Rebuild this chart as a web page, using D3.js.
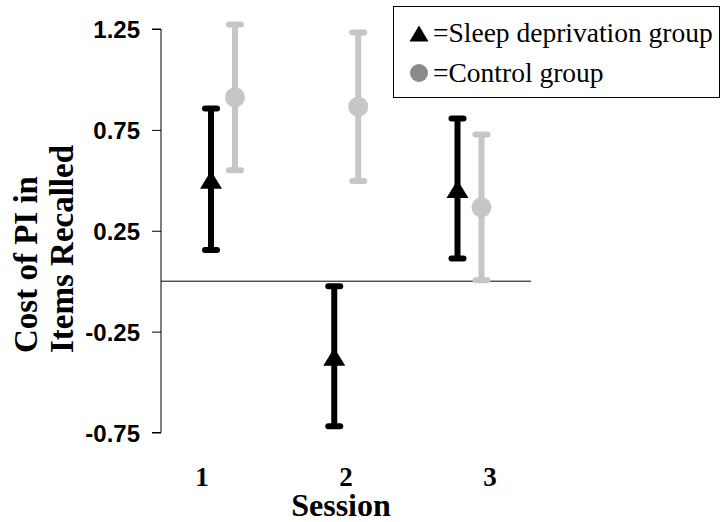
<!DOCTYPE html>
<html>
<head>
<meta charset="utf-8">
<script src="https://cdn.jsdelivr.net/npm/d3@7"></script>
<style>
  html, body { margin: 0; padding: 0; background: #fff; }
  svg { display: block; }
</style>
</head>
<body>
<svg id="chart" width="722" height="522"></svg>
<script>
// Sessions and group means with their error-bar half-widths
const sessions = ["1", "2", "3"];
const sleepMeans = [0.505, -0.372, 0.459];
const sleepErrors = [0.351, 0.347, 0.347];
const controlMeans = [0.911, 0.865, 0.366];
const controlErrors = [0.361, 0.368, 0.361];
const yTicks = [-0.75, -0.25, 0.25, 0.75, 1.25];
const yTitleLines = ["Cost of PI in", "Items Recalled"];
const legendLabels = ["=Sleep deprivation group", "=Control group"];

const svg = d3.select("#chart");
const serif = "'Liberation Serif', 'Times New Roman', serif";
const sans = "'Liberation Sans', Arial, sans-serif";

const black = "#000";
const lightGray = "#c6c6c6";
const legendGray = "#8a8a8a";

// Scales
const y = d3.scaleLinear().domain([-0.75, 1.25]).range([432.5, 29]);
const xMarks = d3.scalePoint().domain(sessions).range([223, 469.5]);
const xLabels = d3.scalePoint().domain(sessions).range([202, 490]);
const offset = 12;

// Y axis (plain hyphen for negatives)
const fmt = d3.format(".2f");
const yAxis = d3.axisLeft(y).tickValues(yTicks).tickSize(9).tickPadding(12)
  .tickFormat(d => fmt(d).replace("\u2212", "-"));
const gy = svg.append("g").attr("transform", "translate(161,0)").call(yAxis);
gy.select(".domain").attr("stroke", "#000").attr("stroke-width", 1)
  .attr("d", `M-9,${y(1.25)}H0V${y(-0.75)}H-9`);
gy.selectAll(".tick line").attr("stroke", "#000");
gy.selectAll(".tick text")
  .attr("font-family", sans).attr("font-weight", "bold").attr("font-size", 24)
  .attr("fill", "#000").attr("dy", "0.36em");

// Zero reference line
svg.append("line")
  .attr("x1", 161).attr("x2", 531)
  .attr("y1", y(0)).attr("y2", y(0))
  .attr("stroke", "#000").attr("stroke-width", 1);

// Session labels
svg.append("g").selectAll("text").data(sessions).join("text")
  .attr("x", d => xLabels(d)).attr("y", 486)
  .attr("text-anchor", "middle")
  .attr("font-family", serif).attr("font-weight", "bold").attr("font-size", 27)
  .text(d => d);

svg.append("text")
  .attr("x", 341).attr("y", 516)
  .attr("text-anchor", "middle")
  .attr("font-family", serif).attr("font-weight", "bold").attr("font-size", 32)
  .text("Session");

// Y title, two rotated lines
svg.append("g").selectAll("text").data(yTitleLines).join("text")
  .attr("transform", (d, i) => `translate(${37 + i * 36},353) rotate(-90)`)
  .attr("text-anchor", "start")
  .attr("font-family", serif).attr("font-weight", "bold").attr("font-size", 33)
  .text(d => d);

// Error bars
function errorBars(means, errs, dx, color) {
  const g = svg.append("g");
  const rows = sessions.map((s, i) => ({ s, m: means[i], e: errs[i] }));
  g.selectAll("line.stem").data(rows).join("line")
    .attr("class", "stem")
    .attr("x1", d => xMarks(d.s) + dx).attr("x2", d => xMarks(d.s) + dx)
    .attr("y1", d => y(d.m + d.e)).attr("y2", d => y(d.m - d.e))
    .attr("stroke", color).attr("stroke-width", 6);
  ["top", "bottom"].forEach(end => {
    g.selectAll("line.cap-" + end).data(rows).join("line")
      .attr("class", "cap-" + end)
      .attr("x1", d => xMarks(d.s) + dx - 6).attr("x2", d => xMarks(d.s) + dx + 6)
      .attr("y1", d => y(end === "top" ? d.m + d.e : d.m - d.e))
      .attr("y2", d => y(end === "top" ? d.m + d.e : d.m - d.e))
      .attr("stroke", color).attr("stroke-width", 6).attr("stroke-linecap", "round");
  });
  return { g, rows };
}

const sleep = errorBars(sleepMeans, sleepErrors, -offset, black);
const control = errorBars(controlMeans, controlErrors, offset, lightGray);

// Markers
function trianglePath(cx, cy, w, h) {
  return `M${cx},${cy - h * 0.47}L${cx + w / 2},${cy + h * 0.53}L${cx - w / 2},${cy + h * 0.53}Z`;
}
sleep.g.selectAll("path.marker").data(sleep.rows).join("path")
  .attr("class", "marker")
  .attr("d", d => trianglePath(xMarks(d.s) - offset, y(d.m), 22, 18))
  .attr("fill", black);

control.g.selectAll("circle").data(control.rows).join("circle")
  .attr("cx", d => xMarks(d.s) + offset).attr("cy", d => y(d.m))
  .attr("r", 10).attr("fill", lightGray);

// Legend
const lg = svg.append("g");
lg.append("rect")
  .attr("x", 393.5).attr("y", 6.5).attr("width", 326).attr("height", 91)
  .attr("fill", "#fff").attr("stroke", "#000").attr("stroke-width", 1);
lg.append("path").attr("d", trianglePath(419, 33, 19, 16)).attr("fill", black);
lg.append("circle").attr("cx", 419).attr("cy", 73).attr("r", 9).attr("fill", legendGray);
lg.selectAll("text").data(legendLabels).join("text")
  .attr("x", 433).attr("y", (d, i) => 42 + i * 40)
  .attr("font-family", serif).attr("font-size", 27.5)
  .attr("fill", "#000")
  .text(d => d);
</script>
</body>
</html>
